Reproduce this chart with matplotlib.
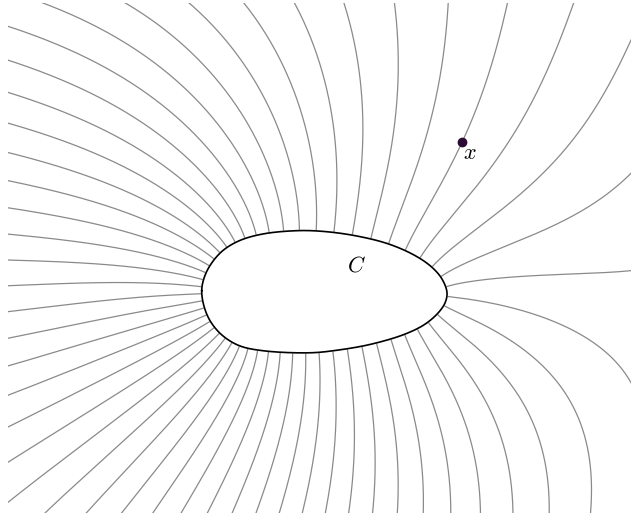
import numpy as np
import matplotlib
matplotlib.use("Agg")
import matplotlib.pyplot as plt
from matplotlib.patches import Rectangle
from matplotlib.path import Path

plt.rcParams["mathtext.fontset"] = "cm"

# ---------------- data ----------------
# outline of the body C (pixel coordinates, y pointing down)
outline_x = [201.7, 204.3, 211.0, 222.7, 239.3, 262.7, 296.0, 322.0, 355.3, 388.7,
             415.3, 432.0, 442.0, 447.0, 445.3, 438.7, 425.3, 405.3, 372.0, 338.7,
             310.0, 262.7, 239.3, 222.7, 211.0, 204.3]
outline_y = [290.7, 277.3, 264.0, 250.7, 240.7, 234.0, 230.7, 231.3, 235.7, 244.0,
             255.7, 267.3, 279.0, 292.3, 302.3, 312.3, 324.0, 334.0, 344.0, 350.0,
             352.8, 350.7, 345.7, 335.7, 322.3, 307.3]
body_center = (322.0, 292.0)

n_lines = 51                       # field lines leaving C (equal flux each)
body_charge = 1.0
# outer potential coefficients: uniform, quadratic and cubic parts (x 1e-3)
ext_coeffs = [-1.4334, 0.6962, -0.1858, -0.0373, -0.0473, -0.1329]
ext_scale = 300.0

point_xy = (462.3, 141.7)          # marked point x (one line passes through it)
label_x_pos = (470.0, 153.0)
label_C_pos = (356.0, 265.0)
label_x = r"$x$"
label_C = r"$C$"

clip_box = (8.0, 3.0, 631.0, 513.0)
line_color = "#8a8a8a"
point_color = "#2b0a35"

# ---------------- outline of C: closed centripetal Catmull-Rom ----------------
P = np.array(outline_x) + 1j * np.array(outline_y)
c0 = body_center[0] + 1j * body_center[1]


def catmull_closed(P, n_per=40):
    N = len(P)
    segs = []
    for i in range(N):
        p0, p1, p2, p3 = P[(i - 1) % N], P[i], P[(i + 1) % N], P[(i + 2) % N]
        t0 = 0.0
        t1 = t0 + abs(p1 - p0) ** 0.5
        t2 = t1 + abs(p2 - p1) ** 0.5
        t3 = t2 + abs(p3 - p2) ** 0.5
        t = np.linspace(t1, t2, n_per, endpoint=False)
        A1 = (t1 - t) / (t1 - t0) * p0 + (t - t0) / (t1 - t0) * p1
        A2 = (t2 - t) / (t2 - t1) * p1 + (t - t1) / (t2 - t1) * p2
        A3 = (t3 - t) / (t3 - t2) * p2 + (t - t2) / (t3 - t2) * p3
        B1 = (t2 - t) / (t2 - t0) * A1 + (t - t0) / (t2 - t0) * A2
        B2 = (t3 - t) / (t3 - t1) * A2 + (t - t1) / (t3 - t1) * A3
        segs.append((t2 - t) / (t2 - t1) * B1 + (t - t1) / (t2 - t1) * B2)
    return np.concatenate(segs)


raw = catmull_closed(P)
rc = np.append(raw, raw[0])
sl = np.concatenate([[0], np.cumsum(np.abs(np.diff(rc)))])
nb = 2400
su = np.linspace(0, sl[-1], nb, endpoint=False)
zb = np.interp(su, sl, rc.real) + 1j * np.interp(su, sl, rc.imag)
win = 9
kern = np.ones(win) / win
zb = np.convolve(np.concatenate([zb[-win:], zb, zb[:win]]), kern, mode="same")[win:-win]
zb_closed = np.append(zb, zb[0])
body_path = Path(np.column_stack([zb_closed.real, zb_closed.imag]))
tang = np.roll(zb, -1) - np.roll(zb, 1)
nrm = -1j * tang / np.abs(tang)
if np.mean(np.real(np.conj(nrm) * (zb - c0))) < 0:
    nrm = -nrm

# ---------------- potential of the charged body C in the outer field ----------------
src = (zb - 14.0 * nrm)[::20]
ns = len(src)
zc = zb[::4]
mc = len(zc)
A = np.zeros((mc + 1, ns + 1))
A[:mc, :ns] = np.log(np.abs(zc[:, None] - src[None, :]))
A[:mc, ns] = -1.0
A[mc, :ns] = 50.0
Apinv = np.linalg.pinv(A, rcond=1e-13)


def solve(rhs_b, total):
    return (Apinv @ np.append(rhs_b, 50.0 * total))[:ns]


L = ext_scale
w = zc - c0
b = np.array(ext_coeffs) / 1000.0
q = (body_charge * solve(np.zeros(mc), 1.0)
     + b[0] * solve(-w.real, 0.0) + b[1] * solve(-w.imag, 0.0)
     + b[2] * solve(-np.real(w ** 2) / L, 0.0) + b[3] * solve(-np.imag(w ** 2) / L, 0.0)
     + b[4] * solve(-np.real(w ** 3) / L ** 2, 0.0) + b[5] * solve(-np.imag(w ** 3) / L ** 2, 0.0))


def grad(z):
    d = z[..., None] - src
    wz = np.conj(z - c0)
    return ((q * d / (d.real ** 2 + d.imag ** 2)).sum(-1) + b[0] + 1j * b[1]
            + (2.0 / L) * (b[2] + 1j * b[3]) * wz
            + (3.0 / L ** 2) * (b[4] + 1j * b[5]) * wz ** 2)


def direction(z):
    v = grad(z)
    return v / (np.abs(v) + 1e-300)


def rk4(z, h):
    k1 = direction(z)
    k2 = direction(z + 0.5 * h * k1)
    k3 = direction(z + 0.5 * h * k2)
    k4 = direction(z + h * k3)
    return z + h / 6 * (k1 + 2 * k2 + 2 * k3 + k4)


# trace back from x to the body to find the boundary point feeding it
z = np.array([complex(*point_xy)])
for _ in range(4000):
    zn = rk4(z, -0.5)
    if body_path.contains_point((zn[0].real, zn[0].imag)):
        lo, hi = z[0], zn[0]
        for _ in range(30):
            m = 0.5 * (lo + hi)
            if body_path.contains_point((m.real, m.imag)):
                hi = m
            else:
                lo = m
        z = np.array([lo])
        break
    z = zn
idx = np.argmin(np.abs(zb - z[0]))

# equal-flux starting points on C, phased so one line runs through x
mid = 0.5 * (zb_closed[1:] + zb_closed[:-1])
dsb = np.abs(np.diff(zb_closed))
flux = np.concatenate([[0.0], np.cumsum(np.abs(grad(mid)) * dsb)])
total = flux[-1]
levels = (flux[idx] + np.arange(n_lines) * total / n_lines) % total
start = np.interp(levels, flux, zb_closed.real) + 1j * np.interp(levels, flux, zb_closed.imag)
start[0] = z[0]

# ---------------- integrate the field lines (RK4) ----------------
h = 1.0
nsteps = 1300
Z = np.full((nsteps + 1, n_lines), np.nan + 0j)
cur = start + 0.3 * direction(start)
Z[0] = cur
active = np.ones(n_lines, bool)
for i in range(nsteps):
    nxt = rk4(cur, h)
    Z[i + 1] = np.where(active, nxt, np.nan)
    out = (nxt.real < -30) | (nxt.real > 670) | (nxt.imag < -30) | (nxt.imag > 550)
    active &= ~out
    cur = np.where(active, nxt, cur)
    if not active.any():
        break

# ---------------- draw ----------------
fig = plt.figure(figsize=(6.31, 5.16), dpi=100)
ax = fig.add_axes([0, 0, 1, 1])
ax.set_xlim(0, 631)
ax.set_ylim(516, 0)
ax.axis("off")

x0, y0, x1, y1 = clip_box
clip = Rectangle((x0, y0), x1 - x0 + 1, y1 - y0, transform=ax.transData,
                 facecolor="none", edgecolor="none")
ax.add_patch(clip)
for j in range(n_lines):
    ln, = ax.plot(Z[:, j].real, Z[:, j].imag, color=line_color, lw=0.9, zorder=1)
    ln.set_clip_path(clip)

ax.fill(zb.real, zb.imag, color="white", zorder=3)
ax.plot(zb_closed.real, zb_closed.imag, color="black", lw=1.2, zorder=4)

ax.plot([point_xy[0]], [point_xy[1]], "o", color=point_color, ms=6, zorder=5)
ax.text(*label_x_pos, label_x, fontsize=16, ha="center", va="center", zorder=6)
ax.text(*label_C_pos, label_C, fontsize=16, ha="center", va="center", zorder=6)

fig.savefig("out.png", dpi=100)
